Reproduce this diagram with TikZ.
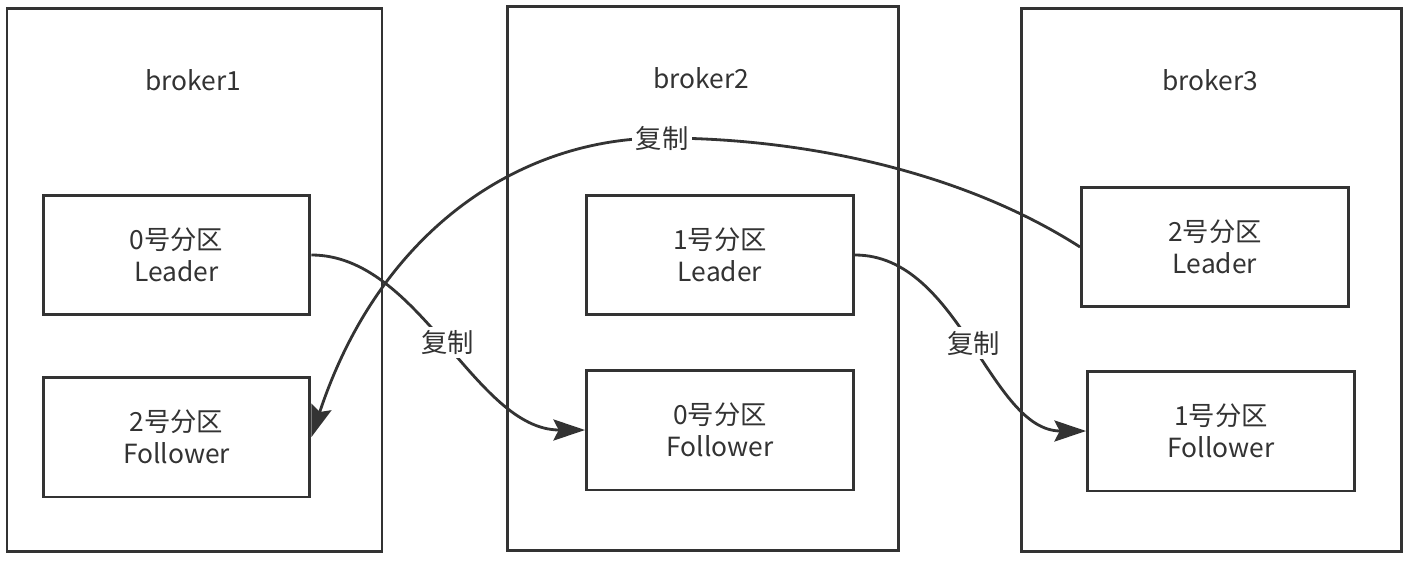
\documentclass[tikz,border=0pt]{standalone}
\usepackage{fontspec}
\setmainfont{Noto Sans CJK SC}
\usetikzlibrary{arrows.meta}
\definecolor{ink}{HTML}{333333}
\begin{document}
\begin{tikzpicture}[
    x=0.02cm, y=-0.02cm,
    broker/.style={rectangle, draw=ink, line width=1.7pt, minimum width=#1*0.02cm, minimum height=10.88cm, inner sep=0pt},
    part/.style={rectangle, draw=ink, line width=1.7pt, minimum width=5.34cm, minimum height=2.4cm, align=center, text=ink, font=\fontsize{15}{18}\selectfont},
    title/.style={text=ink, font=\fontsize{15}{18}\selectfont},
    lbl/.style={fill=white, text=ink, inner sep=2pt, font=\fontsize{15}{18}\selectfont},
    copy/.style={draw=ink, line width=1.6pt, -{Stealth[length=18pt, width=12pt, inset=3pt]}}
]
\useasboundingbox (0,0) rectangle (1416,561);

% Brokers
\node[broker=375] (b1) at (194.5, 280) {};
\node[broker=391] (b2) at (702.5, 278.5) {};
\node[broker=380] (b3) at (1211, 280) {};

\node[title] (t1) at (193, 80) {broker1};
\node[title] (t2) at (701, 78) {broker2};
\node[title] (t3) at (1210, 80) {broker3};

% Partitions
\node[part] (l0) at (176.5, 255) {0号分区\\Leader};
\node[part] (f2) at (176.5, 437) {2号分区\\Follower};
\node[part] (l1) at (720, 255) {1号分区\\Leader};
\node[part] (f0) at (720, 430) {0号分区\\Follower};
\node[part] (l2) at (1215, 247) {2号分区\\Leader};
\node[part] (f1) at (1221, 431) {1号分区\\Follower};

% Replication
\draw[copy] (l0.east |- 0,255) .. controls (420,255) and (475,430) .. node[lbl, pos=0.5] (c0) {复制} (f0.west);
\draw[copy] (l1.east |- 0,255) .. controls (960,255) and (990,431) .. node[lbl, pos=0.5] (c1) {复制} (f1.west);
\draw[copy] (l2.west) .. controls (960,170) and (800,138) .. (662,138) node[lbl] (c2) {复制}
    .. controls (520,138) and (380,230) .. (f2.east);

\end{tikzpicture}
\end{document}
